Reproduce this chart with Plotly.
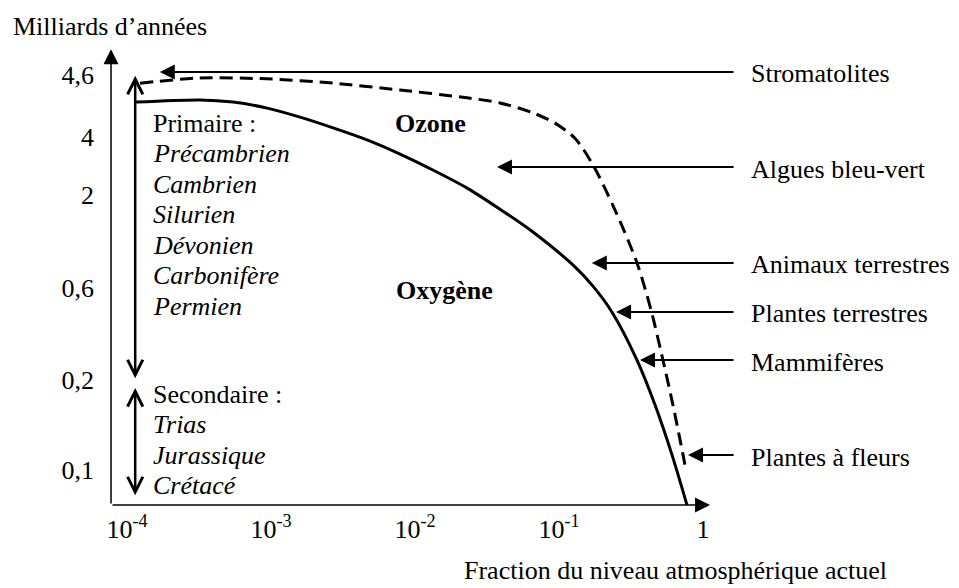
import numpy as np
import plotly.graph_objects as go

# x : fraction du niveau atmosphérique actuel (axe log)
# y : position sur l'échelle schématique des âges (0 = aujourd'hui, 100 = 4,6 Ga)
age_tick_text = ["4,6", "4", "2", "0,6", "0,2", "0,1"]
age_tick_pos = [100, 85.6, 72.1, 50.5, 29.1, 8.1]
frac_ticks = [1e-4, 1e-3, 1e-2, 1e-1, 1]
frac_tick_text = ["10<sup>-4</sup>", "10<sup>-3</sup>", "10<sup>-2</sup>", "10<sup>-1</sup>", "1"]

oxygen_frac = [1.155e-4, 3.21e-4, 5.45e-4, 9.4e-4, 1.59e-3, 2.70e-3, 4.64e-3, 7.87e-3, 0.0133,
               0.0230, 0.0389, 0.0659, 0.127, 0.172, 0.233, 0.348, 0.464, 0.610, 0.774]
oxygen_pos = [93.7, 94.2, 93.7, 92.3, 90.2, 87.7, 84.9, 81.6, 77.9,
              73.7, 68.8, 63.5, 55.6, 50.9, 44.9, 33.7, 23.3, 11.6, 0]

ozone_frac = [1.23e-4, 3.21e-4, 9.4e-4, 2.70e-3, 7.87e-3, 0.0230, 0.0389, 0.0659, 0.0938,
              0.129, 0.172, 0.245, 0.348, 0.436, 0.527, 0.629, 0.727, 0.762]
ozone_pos = [98.1, 99.3, 99.1, 98.1, 96.5, 94.7, 93.5, 91.2, 88.8,
             85.3, 79.1, 68.6, 56.3, 45.3, 33.7, 22.1, 11.6, 8.1]

events = ["Stromatolites", "Algues bleu-vert", "Animaux terrestres",
          "Plantes terrestres", "Mammifères", "Plantes à fleurs"]
event_frac = [1.69e-4, 0.0371, 0.169, 0.249, 0.365, 0.787]
event_pos = [100.7, 78.6, 56.3, 44.9, 33.7, 11.6]

primaire = ["Précambrien", "Cambrien", "Silurien", "Dévonien", "Carbonifère", "Permien"]
secondaire = ["Trias", "Jurassique", "Crétacé"]

FONT = "Liberation Serif, Times New Roman, serif"
FS = 26
lg = np.log10

fig = go.Figure()
fig.add_trace(go.Scatter(x=oxygen_frac, y=oxygen_pos, mode="lines",
                         line=dict(color="black", width=3, shape="spline", smoothing=0.8),
                         hoverinfo="skip"))
fig.add_trace(go.Scatter(x=ozone_frac, y=ozone_pos, mode="lines",
                         line=dict(color="black", width=3, dash="13px,7px", shape="spline", smoothing=0.8),
                         hoverinfo="skip"))

ann = []

def arrow(x0, y0, x1, y1, **kw):
    # tail (x0, y0) -> head (x1, y1), x in log units
    d = dict(x=x1, y=y1, ax=x0, ay=y0, xref="x", yref="y", axref="x", ayref="y",
             text="", showarrow=True, arrowcolor="black", standoff=0, startstandoff=0)
    d.update(kw)
    ann.append(d)

def label(x, y, text, anchor="left", **kw):
    ann.append(dict(x=x, y=y, xref="x", yref="y", text=text, showarrow=False,
                    xanchor=anchor, yanchor="middle",
                    font=dict(family=FONT, size=FS, color="black"), **kw))

# axes with arrows
x_axis_left = -4.111
arrow(x_axis_left, 0, lg(1.12), 0, arrowhead=2, arrowwidth=1.5, arrowsize=2)
arrow(x_axis_left, 0, x_axis_left, 106, arrowhead=2, arrowwidth=1.5, arrowsize=2)

# events on the right
tail_x = lg(1.67)
text_x = lg(2.087)
for name, f, p in zip(events, event_frac, event_pos):
    arrow(tail_x, p, lg(f), p, arrowhead=2, arrowwidth=2, arrowsize=1.5)
    label(text_x, p, name, yshift=-2)

# eras
era_x = lg(1.14e-4)
arrow(era_x, 29.1, era_x, 99.8, arrowhead=5, arrowwidth=2.5, arrowsize=1.2,
      arrowside="end+start", startarrowhead=5, startarrowsize=1.2)
arrow(era_x, 1.9, era_x, 27.2, arrowhead=5, arrowwidth=2.5, arrowsize=1.2,
      arrowside="end+start", startarrowhead=5, startarrowsize=1.2)

col_x = lg(1.468e-4)
label(col_x, 88.8, "Primaire :")
for i, name in enumerate(primaire):
    label(col_x, 81.7 - 7.1 * i, "<i>%s</i>" % name)
label(col_x, 25.8, "Secondaire :")
for i, name in enumerate(secondaire):
    label(col_x, 18.7 - 7.1 * i, "<i>%s</i>" % name)

label(lg(0.0129), 88.8, "<b>Ozone</b>", anchor="center")
label(lg(0.0159), 50.0, "<b>Oxygène</b>", anchor="center")

# axis titles (paper coordinates, outside the plotting area)
ann.append(dict(x=-0.109, y=0.9618, xref="paper", yref="paper", text="Milliards d’années",
                showarrow=False, xanchor="left", yanchor="middle",
                font=dict(family=FONT, size=FS, color="black")))
ann.append(dict(x=0.4142, y=-0.1308, xref="paper", yref="paper",
                text="Fraction du niveau atmosphérique actuel",
                showarrow=False, xanchor="left", yanchor="middle",
                font=dict(family=FONT, size=FS, color="black")))

fig.update_layout(
    width=959, height=588,
    margin=dict(l=97, r=0, t=0, b=91),
    paper_bgcolor="white", plot_bgcolor="white",
    showlegend=False,
    annotations=ann,
    font=dict(family=FONT, size=FS, color="black"),
    xaxis=dict(type="log", range=[-4.1528, 1.8333], tickvals=frac_ticks, ticktext=frac_tick_text,
               showgrid=False, zeroline=False, showline=False, ticks="",
               ticklabelstandoff=6, tickfont=dict(family=FONT, size=FS, color="black")),
    yaxis=dict(range=[0, 115.58], tickvals=age_tick_pos, ticktext=age_tick_text,
               showgrid=False, zeroline=False, showline=False, ticks="",
               ticklabelstandoff=10, tickfont=dict(family=FONT, size=FS, color="black")),
)

fig.write_html("out.html")
